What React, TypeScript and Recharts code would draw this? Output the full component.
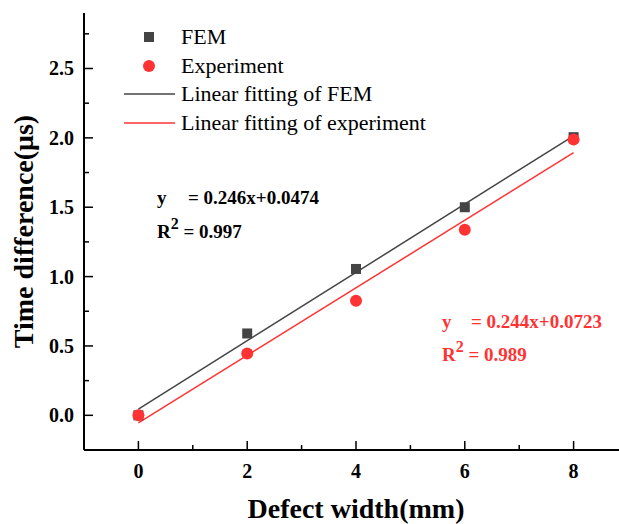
import React from 'react';
import {
    ComposedChart,
    Line,
    Scatter,
    XAxis,
    YAxis,
    Label,
} from 'recharts';

// values
const widths = [0, 2, 4, 6, 8];
const femValues = [0.0, 0.59, 1.055, 1.5, 2.005];
const expValues = [0.0, 0.445, 0.826, 1.338, 1.988];

// fitted lines, endpoints
const fitX = [0, 8];
const femFitValues = [0.045, 2.015];
const expFitValues = [-0.055, 1.893];

const xTicks = [0, 1, 2, 3, 4, 5, 6, 7, 8];
const yTicks = [0, 0.25, 0.5, 0.75, 1, 1.25, 1.5, 1.75, 2, 2.25, 2.5, 2.75];

const femPoints = widths.map((x, i) => ({ x, y: femValues[i] }));
const expPoints = widths.map((x, i) => ({ x, y: expValues[i] }));
const femFit = fitX.map((x, i) => ({ x, y: femFitValues[i] }));
const expFit = fitX.map((x, i) => ({ x, y: expFitValues[i] }));

const GRAY = '#444444';
const RED = '#ff3333';
const SERIF = "'Liberation Serif', 'Times New Roman', serif";
const TM = 10;

const XTick = (props: any) => {
    const { x, y, payload } = props;
    const v = payload.value;
    const major = v % 2 === 0;
    const axisY = y - TM;
    return (
        <g>
            <line x1={x} x2={x} y1={axisY} y2={axisY - (major ? 9 : 5)} stroke="#000" strokeWidth={1.5} />
            {major && (
                <text x={x} y={axisY + 28} textAnchor="middle" fontFamily={SERIF} fontWeight="bold" fontSize={20} fill="#000">
                    {v}
                </text>
            )}
        </g>
    );
};

const YTick = (props: any) => {
    const { x, y, payload } = props;
    const v = payload.value;
    const major = Math.abs(v * 2 - Math.round(v * 2)) < 1e-6;
    const axisX = x + TM;
    return (
        <g>
            <line x1={axisX} x2={axisX + (major ? 9 : 5)} y1={y} y2={y} stroke="#000" strokeWidth={1.5} />
            {major && (
                <text x={axisX - 10} y={y + 7} textAnchor="end" fontFamily={SERIF} fontWeight="bold" fontSize={20} fill="#000">
                    {v.toFixed(1)}
                </text>
            )}
        </g>
    );
};

const legendRows = [
    { label: 'FEM', kind: 'square', color: GRAY },
    { label: 'Experiment', kind: 'circle', color: RED },
    { label: 'Linear fitting of FEM', kind: 'line', color: GRAY },
    { label: 'Linear fitting of experiment', kind: 'line', color: RED },
];

const LegendBox = () => (
    <div style={{ position: 'absolute', left: 120, top: 23, fontFamily: SERIF, fontSize: 22, color: '#000' }}>
        {legendRows.map((r) => (
            <div key={r.label} style={{ display: 'flex', alignItems: 'center', height: 28.5 }}>
                <svg width={61} height={28} style={{ flex: 'none' }}>
                    {r.kind === 'square' && <rect x={24} y={9} width={10} height={10} fill={r.color} />}
                    {r.kind === 'circle' && <circle cx={29} cy={14} r={6} fill={r.color} />}
                    {r.kind === 'line' && <line x1={4} x2={55} y1={14} y2={14} stroke={r.color} strokeWidth={1.5} />}
                </svg>
                <span style={{ lineHeight: 1, whiteSpace: 'nowrap' }}>{r.label}</span>
            </div>
        ))}
    </div>
);

const YTitle = (props: any) => {
    const vb = props.viewBox;
    const cx = 23;
    const cy = vb.y + vb.height / 2;
    return (
        <text
            x={cx}
            y={cy}
            transform={`rotate(-90 ${cx} ${cy})`}
            textAnchor="middle"
            dominantBaseline="central"
            fontFamily={SERIF}
            fontWeight="bold"
            fontSize={28}
            fill="#000"
        >
            Time difference(μs)
        </text>
    );
};

const eqStyle: React.CSSProperties = {
    position: 'absolute',
    fontFamily: SERIF,
    fontWeight: 'bold',
    fontSize: 19,
    lineHeight: '19px',
    whiteSpace: 'nowrap',
};

const supStyle: React.CSSProperties = { fontSize: 16, verticalAlign: 9, lineHeight: 0 };

export default function App() {
    return (
        <div style={{ position: 'fixed', left: 0, top: 0, width: 619, height: 524, overflow: 'hidden', background: '#fff' }}>
            <ComposedChart width={640} height={524} margin={{ top: 13, right: 12, left: 0, bottom: 0 }}>
                <XAxis
                    dataKey="x"
                    type="number"
                    domain={[-1, 9]}
                    ticks={xTicks}
                    interval={0}
                    tickSize={0}
                    tickMargin={TM}
                    tick={<XTick />}
                    height={74}
                    axisLine={{ stroke: '#000', strokeWidth: 2 }}
                >
                    <Label
                        value="Defect width(mm)"
                        position="insideBottom"
                        offset={6}
                        style={{ fontFamily: SERIF, fontWeight: 'bold', fontSize: 28, fill: '#000' }}
                    />
                </XAxis>
                <XAxis
                    xAxisId="top"
                    dataKey="x"
                    type="number"
                    orientation="top"
                    domain={[-1, 9]}
                    height={0}
                    tick={false}
                    tickLine={false}
                    axisLine={{ stroke: '#000', strokeWidth: 1.5 }}
                />
                <YAxis
                    type="number"
                    domain={[-0.25, 2.9]}
                    ticks={yTicks}
                    interval={0}
                    tickSize={0}
                    tickMargin={TM}
                    tick={<YTick />}
                    width={84}
                    axisLine={{ stroke: '#000', strokeWidth: 2 }}
                >
                    <Label content={<YTitle />} />
                </YAxis>
                <YAxis
                    yAxisId="right"
                    orientation="right"
                    type="number"
                    domain={[-0.25, 2.9]}
                    width={0}
                    tick={false}
                    tickLine={false}
                    axisLine={{ stroke: '#000', strokeWidth: 1.5 }}
                />
                <Line data={femFit} dataKey="y" stroke={GRAY} strokeWidth={1.5} dot={false} isAnimationActive={false} />
                <Line data={expFit} dataKey="y" stroke={RED} strokeWidth={1.5} dot={false} isAnimationActive={false} />
                <Scatter
                    data={femPoints}
                    dataKey="y"
                    isAnimationActive={false}
                    shape={(p: any) => <rect x={p.cx - 5} y={p.cy - 5} width={10} height={10} fill={GRAY} />}
                />
                <Scatter
                    data={expPoints}
                    dataKey="y"
                    isAnimationActive={false}
                    shape={(p: any) => <circle cx={p.cx} cy={p.cy} r={6} fill={RED} />}
                />
            </ComposedChart>

            <LegendBox />

            <div style={{ ...eqStyle, left: 157, top: 188 }}>y</div>
            <div style={{ ...eqStyle, left: 188, top: 188 }}>= 0.246x+0.0474</div>
            <div style={{ ...eqStyle, left: 157, top: 222 }}>
                R<sup style={supStyle}>2</sup> = 0.997
            </div>

            <div style={{ ...eqStyle, left: 442, top: 312, color: RED }}>y</div>
            <div style={{ ...eqStyle, left: 471, top: 312, color: RED }}>= 0.244x+0.0723</div>
            <div style={{ ...eqStyle, left: 442, top: 345, color: RED }}>
                R<sup style={supStyle}>2</sup> = 0.989
            </div>
        </div>
    );
}
